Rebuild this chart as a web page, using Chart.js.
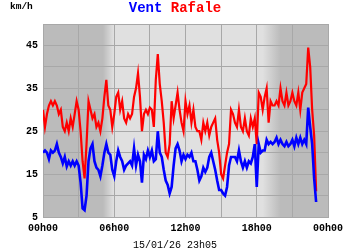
<!DOCTYPE html>
<html>
<head>
<meta charset="utf-8">
<script src="https://cdn.jsdelivr.net/npm/chart.js@4"></script>
<style>
  html, body { margin: 0; padding: 0; background: #fff; }
  #wrap { width: 350px; height: 250px; }
</style>
</head>
<body>
<div id="wrap"><canvas id="ventChart" width="350" height="250"></canvas></div>
<script>
// mesures toutes les 10 minutes, de 00h00 a 23h00 (km/h)
const vent = [
  20, 20.5, 20, 18.5, 20.5, 20, 20.5, 22, 20, 19, 17.5, 19,
  16.8, 18, 17, 18, 17, 18, 17, 13, 7, 6.6, 10, 18,
  21, 22, 18, 16.5, 16, 14.5, 17, 20, 22, 20, 19.5, 16,
  14.5, 18, 20.5, 19, 18, 16, 17, 17.5, 18, 17, 21, 17,
  19.5, 18, 13, 19.5, 18.5, 20.5, 19, 20.5, 18, 18.5, 25, 20,
  19, 16, 13.5, 12.5, 10.5, 12, 17, 21, 22, 20.5, 18, 19.5,
  18.5, 19.5, 19, 20, 18, 18, 16, 13.5, 14.5, 16.5, 15.5, 16.5,
  19, 20, 18, 16, 13.5, 11.3, 11.3, 10.5, 10, 12, 17, 19,
  19, 19, 18, 20.5, 18, 16.5, 18, 16.5, 18, 17.5, 19, 22,
  12, 22, 20, 20.5, 20.5, 23, 22, 22.5, 22, 22.5, 23.5, 22,
  23, 22, 21.5, 22.5, 21.5, 22, 23, 21.5, 23.5, 22, 23.5, 22,
  23, 22, 30.5, 26, 22, 14, 8.5
];
const rafale = [
  30, 26, 29, 31, 32, 31, 32, 31, 29, 30, 26, 25,
  27, 25, 28, 26, 29, 32, 30, 25, 18, 14, 22, 32,
  30, 28, 29, 26, 27, 25, 28, 33, 37, 31, 30, 26,
  29, 33, 34, 30, 32, 28, 27, 29, 28, 29, 33, 35,
  38.5, 33, 25, 29, 30, 29, 30.5, 30, 26, 37, 43, 36,
  32, 27, 20, 19, 22, 32, 28, 31, 34, 30, 27, 25,
  32, 29, 31, 27, 30, 26, 25, 25, 23, 27, 25, 27,
  24, 26, 27, 28, 23, 20, 15, 14, 17, 20, 22, 30,
  29, 27, 26, 30, 26, 25, 28, 25, 24, 28, 26, 28,
  22, 34, 33, 30, 33, 35, 27, 32, 31, 31, 32, 31,
  35, 32, 31, 34, 31, 32, 34, 32, 31, 34, 30, 34,
  35, 36, 44.5, 40, 30, 24, 11
];
const heuresLabels = ["00h00", "06h00", "12h00", "18h00", "00h00"];
const dateMesure = "15/01/26 23h05";

const toPoints = arr => arr.map((v, i) => ({ x: i / 6, y: v }));

const fondPlugin = {
  id: "fond",
  beforeDraw(chart) {
    const { ctx, chartArea: a, scales } = chart;
    const px = h => (scales.x.getPixelForValue(h) - a.left) / (a.right - a.left);
    const g = ctx.createLinearGradient(a.left, 0, a.right, 0);
    const nuit = "#bbbbbb", jour = "#e0e0e0";
    g.addColorStop(0, nuit);
    g.addColorStop(px(5.05), nuit);
    g.addColorStop(px(5.95), jour);
    g.addColorStop(px(18.5), jour);
    g.addColorStop(px(20.0), nuit);
    g.addColorStop(1, nuit);
    ctx.save();
    ctx.fillStyle = g;
    ctx.fillRect(a.left, a.top, a.right - a.left, a.bottom - a.top);
    ctx.restore();
  },
  afterDraw(chart) {
    const { ctx } = chart;
    ctx.save();
    ctx.textBaseline = "alphabetic";
    ctx.font = "bold 14px 'Liberation Mono', 'DejaVu Sans Mono', monospace";
    const t1 = "Vent", t2 = " Rafale";
    const w1 = ctx.measureText(t1).width, w2 = ctx.measureText(t2).width;
    const x0 = 175 - (w1 + w2) / 2;
    ctx.fillStyle = "#0000ff";
    ctx.fillText(t1, x0, 12);
    ctx.fillStyle = "#ff0000";
    ctx.fillText(t2, x0 + w1, 12);
    ctx.fillStyle = "#000";
    ctx.font = "bold 9.5px 'Liberation Mono', monospace";
    ctx.fillText("km/h", 10, 9);
    ctx.font = "10px 'Liberation Mono', monospace";
    ctx.textAlign = "center";
    ctx.fillText(dateMesure, 175, 248);
    ctx.restore();
  }
};

new Chart(document.getElementById("ventChart"), {
  type: "line",
  data: {
    datasets: [
      { label: "Vent", data: toPoints(vent), borderColor: "#0000ff", borderWidth: 2.6 },
      { label: "Rafale", data: toPoints(rafale), borderColor: "#ff0000", borderWidth: 2.2 }
    ]
  },
  options: {
    responsive: false,
    animation: false,
    layout: { padding: { top: 24, right: 22, left: 0, bottom: 0 } },
    elements: { point: { radius: 0 }, line: { tension: 0 } },
    plugins: { legend: { display: false }, tooltip: { enabled: false } },
    scales: {
      x: {
        type: "linear",
        min: 0, max: 24,
        afterFit(s) { s.height = 33; },
        grid: { color: "#a8a8a8", lineWidth: 1, drawTicks: false },
        border: { color: "#a8a8a8" },
        ticks: {
          stepSize: 3, autoSkip: false, maxRotation: 0, padding: 5,
          color: "#000",
          font: { family: "'Liberation Mono', monospace", size: 10, weight: "bold" },
          callback: v => (v % 6 === 0 ? heuresLabels[v / 6] : "")
        }
      },
      y: {
        min: 5, max: 50,
        afterFit(s) { s.width = 43; },
        grid: { color: "#a8a8a8", lineWidth: 1, drawTicks: false },
        border: { color: "#a8a8a8" },
        ticks: {
          stepSize: 5, padding: 5, color: "#000",
          font: { family: "'Liberation Mono', monospace", size: 10, weight: "bold" },
          callback: v => (v % 10 === 5 && v < 50 ? v : "")
        }
      }
    }
  },
  plugins: [fondPlugin]
});
</script>
</body>
</html>
